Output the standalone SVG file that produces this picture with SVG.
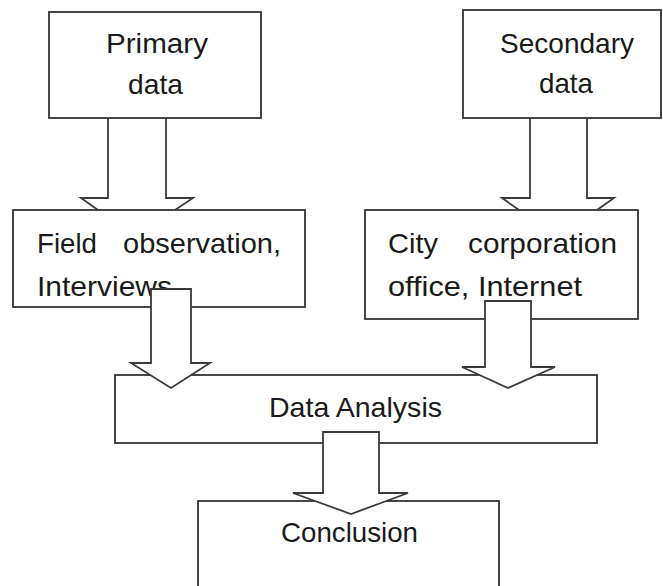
<svg xmlns="http://www.w3.org/2000/svg" width="663" height="586" viewBox="0 0 663 586">
<style>
.box{fill:#fff;stroke:#333;stroke-width:1.8}
.arr{fill:#fff;stroke:#3a3a3a;stroke-width:1.8;stroke-linejoin:miter}
.arr-open{fill:none;stroke:#3a3a3a;stroke-width:1.8}
text{font-family:"Liberation Sans","Open Sans",Arial,sans-serif;font-size:28px;fill:#1a1a1a}
</style>
<rect width="663" height="586" fill="#fff"/>
<g id="primary">
<rect class="box" x="49" y="12" width="212" height="106"/>
<text x="106" y="53" textLength="102" lengthAdjust="spacingAndGlyphs">Primary</text>
<text x="128" y="94" textLength="55" lengthAdjust="spacingAndGlyphs">data</text>
</g>
<g id="secondary">
<rect class="box" x="463" y="10" width="198" height="108"/>
<text x="500" y="53" textLength="134" lengthAdjust="spacingAndGlyphs">Secondary</text>
<text x="539" y="93" textLength="54" lengthAdjust="spacingAndGlyphs">data</text>
</g>
<g id="field">
<rect class="box" x="13" y="210" width="292" height="97"/>
<text x="37" y="253"><tspan textLength="60" lengthAdjust="spacingAndGlyphs">Field</tspan> <tspan x="123" textLength="158" lengthAdjust="spacingAndGlyphs">observation,</tspan></text>
<text x="37" y="296" textLength="135" lengthAdjust="spacingAndGlyphs">Interviews</text>
</g>
<g id="city">
<rect class="box" x="365" y="210" width="273" height="109"/>
<text x="388" y="253"><tspan textLength="50" lengthAdjust="spacingAndGlyphs">City</tspan> <tspan x="468" textLength="149" lengthAdjust="spacingAndGlyphs">corporation</tspan></text>
<text x="388" y="296" textLength="194" lengthAdjust="spacingAndGlyphs">office, Internet</text>
</g>
<g id="analysis">
<rect class="box" x="115" y="375" width="482" height="68"/>
<text x="269" y="417" textLength="173" lengthAdjust="spacingAndGlyphs">Data Analysis</text>
</g>
<g id="conclusion">
<rect class="box" x="198" y="501" width="301" height="110"/>
<text x="281" y="542" textLength="137" lengthAdjust="spacingAndGlyphs">Conclusion</text>
</g>
<g id="connectors">
<path class="arr-open" d="M108,118 L108,198 L81,198 L98,210 M175,210 L193,198 L166,198 L166,118"/>
<path class="arr-open" d="M530,118 L530,198 L502,198 L519,210 M597,210 L614,198 L587,198 L587,118"/>
<polygon class="arr" points="151,289 191,289 191,363 210,363 171,388 131,363 151,363"/>
<polygon class="arr" points="485,301 531,301 531,367 555,367 508,388 462,367 485,367"/>
<polygon class="arr" points="323,432 379,432 379,493 408,493 351,514 293,493 323,493"/>
</g>
</svg>
